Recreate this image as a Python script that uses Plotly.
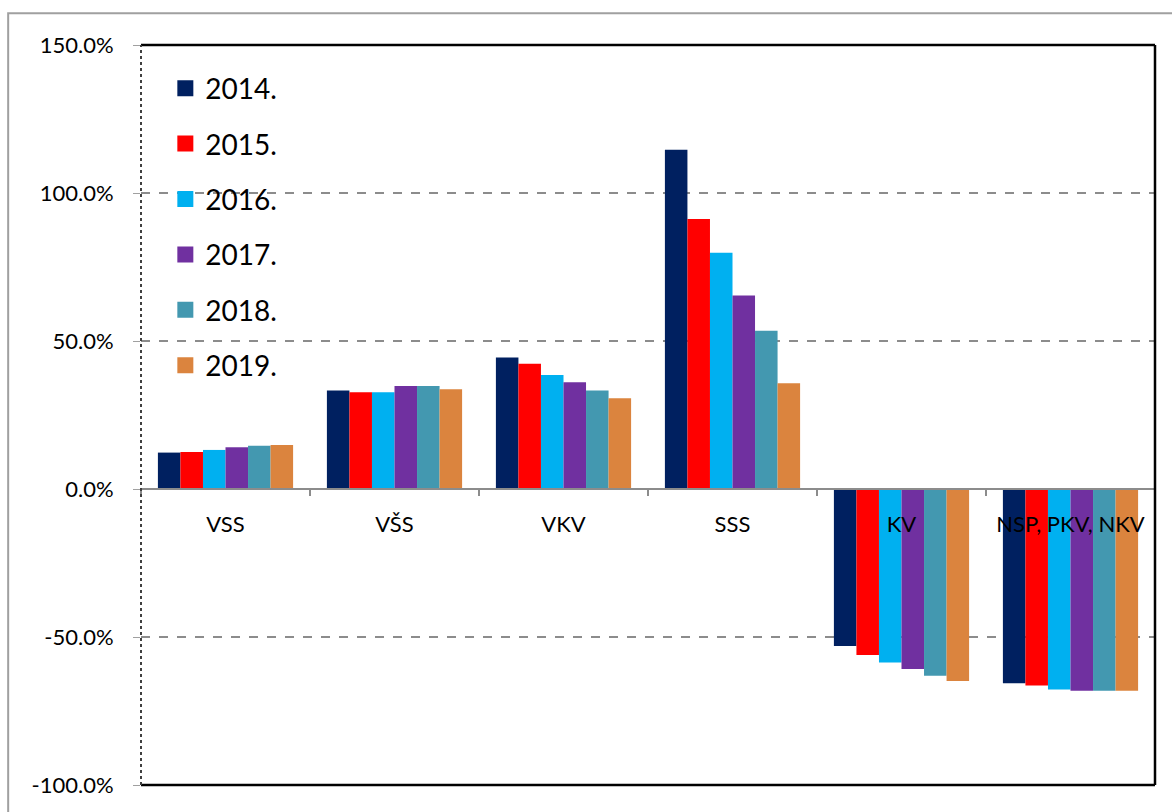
import plotly.graph_objects as go

categories = ["VSS", "VŠS", "VKV", "SSS", "KV", "NSP, PKV, NKV"]
years = ["2014.", "2015.", "2016.", "2017.", "2018.", "2019."]
values = {
    "2014.": [12.3, 33.3, 44.4, 114.6, -53.0, -65.6],
    "2015.": [12.5, 32.7, 42.3, 91.2, -56.1, -66.4],
    "2016.": [13.2, 32.7, 38.5, 79.8, -58.6, -67.7],
    "2017.": [14.1, 34.8, 36.1, 65.4, -60.8, -68.2],
    "2018.": [14.6, 34.8, 33.3, 53.5, -63.1, -68.2],
    "2019.": [14.9, 33.7, 30.7, 35.7, -64.9, -68.2],
}
colors = ["#002060", "#FF0000", "#00B0F0", "#7030A0", "#4398B0", "#DB843E"]
y_tickvals = [-100, -50, 0, 50, 100, 150]
y_ticktext = ["-100.0%", "-50.0%", "0.0%", "50.0%", "100.0%", "150.0%"]

FONT = "Lato"
fig = go.Figure()
for yr, col in zip(years, colors):
    fig.add_trace(go.Bar(x=categories, y=values[yr], name=yr, marker_color=col,
                         marker_line_width=0, showlegend=False))
# legend proxies with larger square symbols
for yr, col in zip(years, colors):
    fig.add_trace(go.Scatter(x=[None], y=[None], mode="markers", name=yr, legendgroup=yr,
                             marker=dict(symbol="square", size=16, color=col)))

fig.update_layout(
    width=1172, height=812,
    margin=dict(l=141, r=17, t=45, b=27),
    paper_bgcolor="white", plot_bgcolor="white",
    barmode="group", bargap=0.2, bargroupgap=0,
    font=dict(family=FONT, color="black"),
    showlegend=True,
    legend=dict(x=0.024, y=0.975, xanchor="left", yanchor="top",
                font=dict(size=28, family=FONT), traceorder="grouped",
                tracegroupgap=16, bgcolor="rgba(0,0,0,0)"),
    xaxis=dict(type="category", anchor="free", position=0.4, showline=True,
               linecolor="#8c8c8c", linewidth=2, tickson="boundaries",
               ticks="outside", ticklen=6, tickcolor="#8c8c8c", tickwidth=2,
               tickfont=dict(size=22, family=FONT), ticklabelstandoff=16,
               showgrid=False, zeroline=False, layer="above traces"),
    yaxis=dict(range=[-100, 150], tickvals=y_tickvals, ticktext=y_ticktext,
               showgrid=True, gridcolor="#8c8c8c", griddash="dash", gridwidth=1.5,
               zeroline=False, ticks="outside", ticklen=7, tickcolor="#a0a0a0",
               tickfont=dict(size=22, family=FONT), ticklabelstandoff=15,
               showline=False),
    shapes=[
        # outer frame (only top/left visible)
        dict(type="rect", xref="paper", yref="paper", x0=-0.131, x1=1.2, y0=-0.2, y1=1.043,
             line=dict(color="#a0a0a0", width=2), layer="below"),
        # plot area frame
        dict(type="line", xref="paper", yref="paper", x0=0, x1=1, y0=1, y1=1,
             line=dict(color="black", width=2.5)),
        dict(type="line", xref="paper", yref="paper", x0=1, x1=1, y0=0, y1=1,
             line=dict(color="black", width=2.5)),
        dict(type="line", xref="paper", yref="paper", x0=0, x1=1, y0=0, y1=0,
             line=dict(color="black", width=2.5)),
        dict(type="line", xref="paper", yref="paper", x0=0, x1=0, y0=0, y1=1,
             line=dict(color="#404040", width=2, dash="dot")),
    ],
)
fig.write_html("out.html", config={"displayModeBar": False},
               post_script="document.body.style.margin='0';document.body.style.overflow='hidden';")
